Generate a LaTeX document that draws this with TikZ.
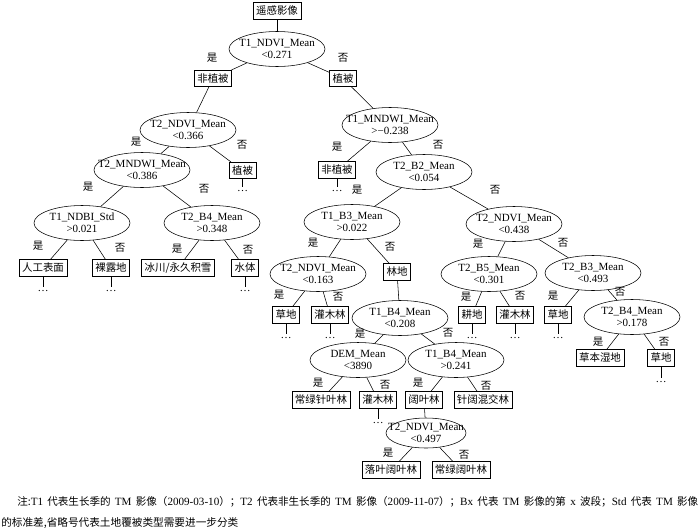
\documentclass[tikz,border=0pt]{standalone}
\usepackage{fontspec}
\setmainfont{Liberation Serif}
\newfontfamily\cjk{Noto Sans CJK SC}[Scale=0.95]
\usetikzlibrary{shapes.geometric}

% two centred lines of a split test, kept out of the ellipse size
\newcommand{\cond}[2]{\makebox[0pt]{#1}\\\makebox[0pt]{#2}}

\begin{document}
\begin{tikzpicture}[x=1pt,y=-1pt,line width=0.55pt,
    font=\fontsize{11}{12.5}\selectfont,
    test/.style={draw,ellipse,inner sep=0pt,minimum width=96pt,minimum height=35pt,align=center},
    leaf/.style={draw,rectangle,font=\fontsize{11}{12.5}\selectfont\cjk,inner xsep=3pt,inner ysep=3pt,text height=9pt,text depth=1.5pt},
    etc/.style={inner sep=0pt,inner ysep=2pt,text height=2pt,text depth=0pt},
    lbl/.style={font=\fontsize{11}{12.5}\selectfont\cjk,inner sep=0pt}]
    \useasboundingbox (0,0) rectangle (700,530);

    % root
    \node[leaf] (rs) at (277,11) {遥感影像};
    \node[test] (e1) at (277,49) {\cond{T1\_NDVI\_Mean}{<0.271}};
    \node[leaf] (b1) at (213,78.5) {非植被};
    \node[leaf] (b2) at (343,78.5) {植被};

    % left branch
    \node[test] (e2) at (188,130) {\cond{T2\_NDVI\_Mean}{<0.366}};
    \node[test] (e3) at (142,170) {\cond{T2\_MNDWI\_Mean}{<0.386}};
    \node[leaf] (b3) at (242.5,170.5) {植被};
    \node[test] (e4) at (82,223) {\cond{T1\_NDBI\_Std}{>0.021}};
    \node[test] (e5) at (212,223) {\cond{T2\_B4\_Mean}{>0.348}};
    \node[leaf] (b4) at (43,268) {人工表面};
    \node[leaf] (b5) at (111,268) {裸露地};
    \node[leaf] (b6) at (178,268) {冰川/永久积雪};
    \node[leaf] (b7) at (245,268) {水体};

    % right branch
    \node[test] (e6) at (390,125) {\cond{T1\_MNDWI\_Mean}{>−0.238}};
    \node[leaf] (b8) at (337,170) {非植被};
    \node[test] (e7) at (424,172) {\cond{T2\_B2\_Mean}{<0.054}};
    \node[test] (e8) at (352,222) {\cond{T1\_B3\_Mean}{>0.022}};
    \node[test] (e9) at (514,224) {\cond{T2\_NDVI\_Mean}{<0.438}};
    \node[test] (e10) at (318,274) {\cond{T2\_NDVI\_Mean}{<0.163}};
    \node[leaf] (b9) at (397,272) {林地};
    \node[test] (e11) at (489,274) {\cond{T2\_B5\_Mean}{<0.301}};
    \node[test] (e12) at (593,273) {\cond{T2\_B3\_Mean}{<0.493}};
    \node[leaf] (b10) at (286,315) {草地};
    \node[leaf] (b11) at (330,315) {灌木林};
    \node[test] (e13) at (400,318) {\cond{T1\_B4\_Mean}{<0.208}};
    \node[leaf] (b12) at (472,315) {耕地};
    \node[leaf] (b13) at (515,315) {灌木林};
    \node[leaf] (b14) at (558,315) {草地};
    \node[test] (e14) at (632,317) {\cond{T2\_B4\_Mean}{>0.178}};
    \node[test] (e15) at (358,360) {\cond{DEM\_Mean}{<3890}};
    \node[test] (e16) at (456,360) {\cond{T1\_B4\_Mean}{>0.241}};
    \node[leaf] (b15) at (600,358) {草本湿地};
    \node[leaf] (b16) at (661,358) {草地};
    \node[leaf] (b17) at (321,400) {常绿针叶林};
    \node[leaf] (b18) at (378,400) {灌木林};
    \node[leaf] (b19) at (424,400) {阔叶林};
    \node[leaf] (b20) at (483,400) {针阔混交林};
    \node[test,minimum width=80pt,minimum height=30pt] (e17) at (426,433) {\cond{T2\_NDVI\_Mean}{<0.497}};
    \node[leaf] (b21) at (391,470) {落叶阔叶林};
    \node[leaf] (b22) at (461,470) {常绿阔叶林};

    % branches
    \foreach \a/\b in {rs/e1, e1/b1, e1/b2, b1/e2, e2/e3, e2/b3, e3/e4, e3/e5,
        e4/b4, e4/b5, e5/b6, e5/b7, b2/e6, e6/b8, e6/e7, e7/e8, e7/e9,
        e8/e10, e8/b9, e10/b10, e10/b11, b9/e13, e9/e11, e9/e12,
        e11/b12, e11/b13, e12/b14, e12/e14, e14/b15, e14/b16,
        e13/e15, e13/e16, e15/b17, e15/b18, e16/b19, e16/b20,
        b19/e17, e17/b21, e17/b22}
        \draw (\a) -- (\b);

    % classes to be split further
    \foreach \b/\py in {b3/190, b4/290, b5/290, b7/290, b8/190, b10/337,
        b11/337, b12/337, b13/337, b14/337, b16/381, b18/422}
    {
        \node[etc] (\b d) at (\b |- 0,\py) {\ldots};
        \draw (\b) -- (\b d);
    }

    % yes / no
    \foreach \lx/\ly/\lt [count=\i] in {212/58/是, 343/58/否, 136/142/是, 242/145/否,
        88/187/是, 204/189/否, 38/246/是, 120/248/否, 177/249/是, 248/250/否,
        337/147/是, 438/145/否, 357/190/是, 495/190/否, 313/243/是, 390/247/否,
        478/244/是, 563/243/否, 279/295/是, 338/297/否, 466/297/是, 520/296/否,
        553/296/是, 620/292/否, 360/334/是, 448/333/否, 598/342/是, 664/342/否,
        318/383/是, 385/385/否, 418/383/是, 486/386/否, 388/453/是, 464/455/否}
        \node[lbl] (lab\i) at (\lx,\ly) {\lt};

    % note
    \node[anchor=base west,inner sep=0pt,font=\fontsize{11.1}{13}\selectfont] (note1) at (17,505)
        {\makebox[681pt][s]{{\cjk 注:}T1 {\cjk 代表生长季的} TM {\cjk 影像（}2009-03-10{\cjk ）；}T2 {\cjk 代表非生长季的} TM {\cjk 影像（}2009-11-07{\cjk ）；}Bx {\cjk 代表} TM {\cjk 影像的第} x {\cjk 波段；}Std {\cjk 代表} TM {\cjk 影像}}};
    \node[anchor=base west,inner sep=0pt,font=\fontsize{11.2}{13}\selectfont\cjk] (note2) at (1,526)
        {的标准差,省略号代表土地覆被类型需要进一步分类};
\end{tikzpicture}
\end{document}
